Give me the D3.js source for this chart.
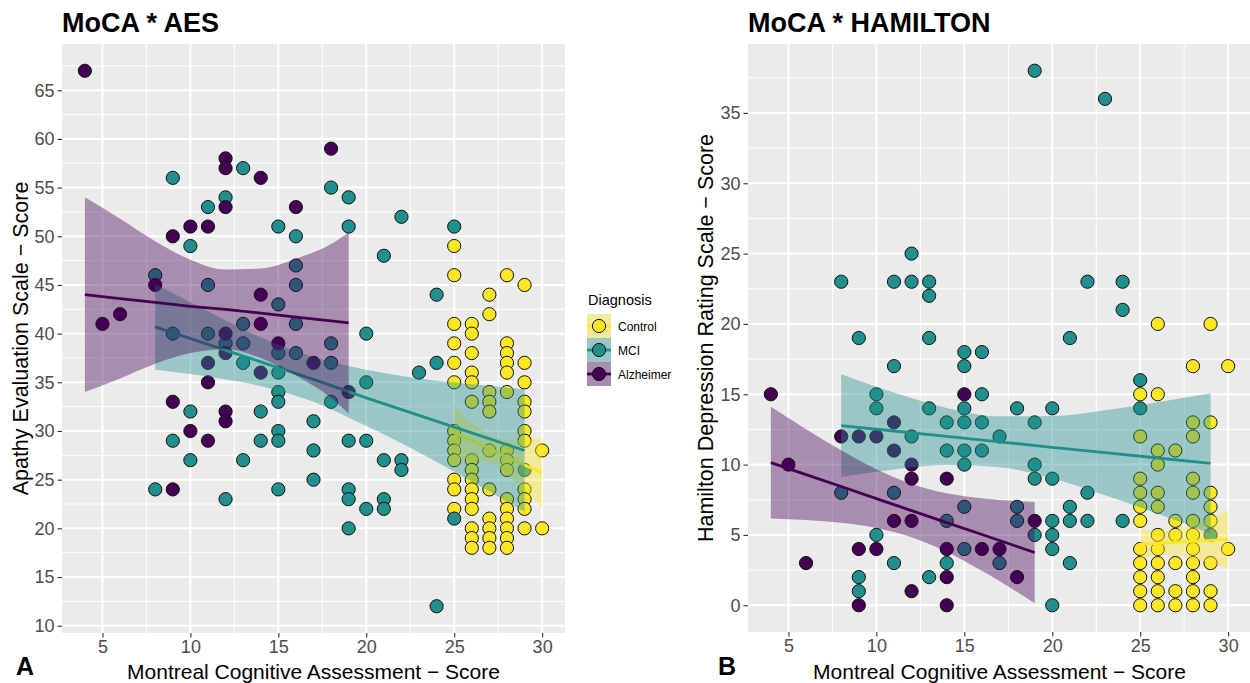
<!DOCTYPE html>
<html>
<head>
<meta charset="utf-8">
<script src="https://cdn.jsdelivr.net/npm/d3@7"></script>
<style>
  body { margin: 0; background: #fff; }
  text { font-family: "Liberation Sans", Arial, sans-serif; }
</style>
</head>
<body>
<svg id="chart" width="1250" height="683"></svg>
<script>
const groups = ["Control", "MCI", "Alzheimer"];
const groupColors = ["#FDE725", "#21908C", "#440154"];

const xTicks = [5, 10, 15, 20, 25, 30];
const aesTicks = [10, 15, 20, 25, 30, 35, 40, 45, 50, 55, 60, 65];
const hamTicks = [0, 5, 10, 15, 20, 25, 30, 35];

// MoCA * AES, [MoCA, AES]
const aesControl = [
  [25,49],[25,46],[25,41],[25,39],[25,37],[25,35],[25,30],[25,29],[25,28],[25,27],[25,25],[25,24],[25,22],
  [26,41],[26,40],[26,38],[26,36],[26,35],[26,33],[26,27],[26,26],[26,25],[26,24],[26,23],[26,22],[26,20],[26,19],[26,18],
  [27,44],[27,42],[27,34],[27,33],[27,32],[27,28],[27,24],[27,21],[27,20],[27,19],[27,18],
  [28,46],[28,39],[28,38],[28,37],[28,36],[28,34],[28,28],[28,27],[28,26],[28,23],[28,22],[28,21],[28,20],[28,19],[28,18],
  [29,45],[29,37],[29,35],[29,33],[29,32],[29,30],[29,29],[29,24],[29,23],[29,22],[29,20],
  [30,28],[30,20]
];
const aesMCI = [
  [9,56],[11,53],[12,54],[13,57],[15,51],[16,50],[10,49],[8,46],[11,45],[16,47],[16,45],[15,43],
  [13,41],[16,41],[9,40],[11,40],[12,39],[13,39],[15,38],[16,38],[13,37],[15,36],[15,34],[15,33],
  [10,32],[14,32],[17,31],[15,30],[9,29],[14,29],[15,29],[17,28],[10,27],[13,27],[8,24],[15,24],
  [12,23],[18,55],[19,54],[19,51],[22,52],[21,48],[25,51],[24,44],[18,39],[18,37],[18,33],[20,40],
  [20,35],[24,37],[23,36],[19,29],[20,29],[17,25],[19,24],[19,23],[19,20],[20,22],[21,23],[21,22],
  [21,27],[22,27],[22,26],[25,21],[24,12],[29,26]
];
const aesAlzheimer = [
  [4,67],[5,41],[6,42],[8,45],[9,50],[9,33],[9,24],[10,51],[10,30],[11,51],[11,35],[11,29],[11,37],
  [12,58],[12,57],[12,53],[12,40],[12,38],[12,32],[12,31],[14,56],[14,44],[14,41],[14,36],[15,39],
  [16,53],[17,37],[18,59],[19,34]
];

// MoCA * HAMILTON, [MoCA, HAM-D]
const hamControl = [
  [26,20],[29,20],[28,17],[30,17],[25,15],[26,15],[28,13],[29,13],[25,12],[28,12],[26,11],[27,11],
  [26,10],[25,9],[28,9],[25,8],[26,8],[28,8],[29,8],[25,7],[26,7],[29,7],[25,6],[27,6],[28,6],[29,6],
  [26,5],[27,5],[28,5],[25,4],[26,4],[28,4],[30,4],[25,3],[26,3],[27,3],[28,3],[29,3],[25,2],[26,2],
  [28,2],[25,1],[26,1],[27,1],[28,1],[29,1],[25,0],[26,0],[27,0],[28,0],[29,0]
];
const hamMCI = [
  [8,23],[11,23],[12,23],[12,25],[13,23],[13,22],[9,19],[13,19],[21,19],[19,38],[23,36],[22,23],
  [24,23],[24,21],[15,18],[16,18],[11,17],[15,17],[10,15],[16,15],[10,14],[13,14],[15,14],[18,14],
  [20,14],[14,13],[15,13],[16,13],[19,13],[12,12],[17,12],[14,11],[15,11],[16,11],[15,10],[19,10],
  [19,9],[20,9],[8,8],[11,8],[22,8],[15,7],[18,7],[21,7],[14,6],[18,6],[20,6],[21,6],[22,6],[24,6],
  [19,5],[20,5],[10,5],[29,5],[15,4],[20,4],[11,3],[14,3],[17,3],[21,3],[9,2],[13,2],[9,1],[20,0],
  [25,16],[25,14]
];
const hamAlzheimer = [
  [4,15],[5,10],[6,3],[8,12],[9,12],[9,4],[9,0],[10,12],[10,4],[11,13],[11,11],[11,6],[12,10],
  [12,9],[12,6],[12,1],[14,9],[14,4],[14,2],[14,0],[15,15],[16,4],[17,4],[18,2],[19,6]
];

// linear fits with 95% band, [MoCA, fit, lower, upper]
const aesFitControl = [[25,29.8,27.0,32.6],[26,29.0,27.1,30.9],[27,28.2,26.7,29.6],[28,27.3,25.5,29.1],[29,26.5,23.9,29.1],[30,25.7,22.1,29.3]];
const aesFitMCI = [[8,40.7,36.3,45.1],[11,38.9,35.6,42.3],[14,37.1,34.6,39.6],[17,35.3,33.0,37.6],[20,33.4,30.5,36.3],[23,31.6,27.8,35.4],[26,29.8,24.8,34.8],[29,28.0,21.7,34.3]];
const aesFitAlzheimer = [[4,44.0,34.0,54.0],[6,43.6,35.4,51.8],[8,43.2,36.9,49.5],[10,42.8,38.0,47.6],[12,42.5,38.4,46.6],[14,42.1,37.5,46.7],[16,41.7,35.7,47.7],[18,41.3,33.4,49.2],[19,41.1,31.8,50.4]];

const hamFitControl = [[25,4.34,3.26,5.42],[26,4.41,3.55,5.27],[27,4.48,3.56,5.40],[28,4.54,3.32,5.76],[29,4.61,2.98,6.24],[30,4.68,2.60,6.76]];
const hamFitMCI = [[8,12.77,9.12,16.42],[11,12.39,9.66,15.12],[14,12.0,9.97,14.03],[17,11.62,9.81,13.43],[20,11.23,9.01,13.45],[23,10.85,7.83,13.87],[26,10.47,6.50,14.44],[29,10.08,5.08,15.08]];
const hamFitAlzheimer = [[4,10.14,6.17,14.11],[6,9.29,6.06,12.52],[8,8.44,5.86,11.02],[10,7.58,5.49,9.67],[12,6.73,4.83,8.63],[14,5.88,3.79,7.97],[16,5.03,2.45,7.61],[18,4.18,0.95,7.41],[19,3.75,0.15,7.35]];

const svg = d3.select("#chart");

function expand(ext) {
  const pad = (ext[1] - ext[0]) * 0.05;
  return [ext[0] - pad, ext[1] + pad];
}

function minorTicks(ticks, domain) {
  const step = ticks[1] - ticks[0];
  const out = [];
  for (let i = -1; i < ticks.length; i++) {
    const v = ticks[0] + step * (i + 0.5);
    if (v > domain[0] && v < domain[1]) out.push(v);
  }
  return out;
}

function drawPanel(cfg) {
  const allPts = cfg.points.flat();
  const x = d3.scaleLinear().domain(expand(d3.extent(allPts, d => d[0]))).range([cfg.left, cfg.right]);
  const y = d3.scaleLinear().domain(expand(d3.extent(allPts, d => d[1]))).range([cfg.bottom, cfg.top]);

  const g = svg.append("g");
  const clipId = "clip-" + cfg.tag;
  g.append("clipPath").attr("id", clipId)
    .append("rect")
    .attr("x", cfg.left).attr("y", cfg.top)
    .attr("width", cfg.right - cfg.left).attr("height", cfg.bottom - cfg.top);

  g.append("rect")
    .attr("x", cfg.left).attr("y", cfg.top)
    .attr("width", cfg.right - cfg.left).attr("height", cfg.bottom - cfg.top)
    .attr("fill", "#EBEBEB");

  const grid = g.append("g").attr("clip-path", `url(#${clipId})`);
  grid.selectAll(".xminor").data(minorTicks(xTicks, x.domain())).enter().append("line")
    .attr("x1", d => x(d)).attr("x2", d => x(d)).attr("y1", cfg.top).attr("y2", cfg.bottom)
    .attr("stroke", "#fff").attr("stroke-width", 1);
  grid.selectAll(".yminor").data(minorTicks(cfg.yTicks, y.domain())).enter().append("line")
    .attr("y1", d => y(d)).attr("y2", d => y(d)).attr("x1", cfg.left).attr("x2", cfg.right)
    .attr("stroke", "#fff").attr("stroke-width", 1);
  grid.selectAll(".xmajor").data(xTicks).enter().append("line")
    .attr("x1", d => x(d)).attr("x2", d => x(d)).attr("y1", cfg.top).attr("y2", cfg.bottom)
    .attr("stroke", "#fff").attr("stroke-width", 2);
  grid.selectAll(".ymajor").data(cfg.yTicks).enter().append("line")
    .attr("y1", d => y(d)).attr("y2", d => y(d)).attr("x1", cfg.left).attr("x2", cfg.right)
    .attr("stroke", "#fff").attr("stroke-width", 2);

  const plot = g.append("g").attr("clip-path", `url(#${clipId})`);

  // points first, smooths on top (as geom_point + geom_smooth)
  cfg.points.forEach((pts, i) => {
    plot.append("g").selectAll("circle").data(pts).enter().append("circle")
      .attr("cx", d => x(d[0])).attr("cy", d => y(d[1]))
      .attr("r", 6.6)
      .attr("fill", groupColors[i])
      .attr("stroke", "#111").attr("stroke-width", 1);
  });

  const band = d3.area().curve(d3.curveMonotoneX)
    .x(d => x(d[0])).y0(d => y(d[2])).y1(d => y(d[3]));
  const fitLine = d3.line().x(d => x(d[0])).y(d => y(d[1]));

  cfg.fits.forEach((fit, i) => {
    plot.append("path").datum(fit)
      .attr("d", band)
      .attr("fill", groupColors[i]).attr("fill-opacity", 0.4);
    plot.append("path").datum(fit)
      .attr("d", fitLine)
      .attr("fill", "none").attr("stroke", groupColors[i]).attr("stroke-width", 2.8);
  });

  // axes
  const xAxis = g.append("g").attr("transform", `translate(0,${cfg.bottom})`)
    .call(d3.axisBottom(x).tickValues(xTicks).tickSize(4.5).tickPadding(2.5));
  const yAxis = g.append("g").attr("transform", `translate(${cfg.left},0)`)
    .call(d3.axisLeft(y).tickValues(cfg.yTicks).tickSize(4.5).tickPadding(3));
  [xAxis, yAxis].forEach(a => {
    a.select(".domain").remove();
    a.selectAll(".tick line").attr("stroke", "#333").attr("stroke-width", 1.1);
    a.selectAll(".tick text").attr("fill", "#4D4D4D")
      .style("font-size", "18px").style("font-family", '"Liberation Sans", Arial, sans-serif');
  });

  g.append("text")
    .attr("x", (cfg.left + cfg.right) / 2).attr("y", 679)
    .attr("text-anchor", "middle")
    .style("font-size", "21px").attr("fill", "#000")
    .text("Montreal Cognitive Assessment \u2212 Score");

  g.append("text")
    .attr("transform", `translate(${cfg.yTitleX},${(cfg.top + cfg.bottom) / 2}) rotate(-90)`)
    .attr("text-anchor", "middle")
    .style("font-size", "21.5px").attr("fill", "#000")
    .text(cfg.yTitle);

  g.append("text")
    .attr("x", cfg.left).attr("y", 31.5)
    .style("font-size", "27px").style("font-weight", "bold").attr("fill", "#000")
    .text(cfg.title);

  g.append("text")
    .attr("x", cfg.tagX).attr("y", 675)
    .style("font-size", "25px").style("font-weight", "bold").attr("fill", "#000")
    .text(cfg.tag);
}

drawPanel({
  left: 62, right: 565, top: 44, bottom: 633,
  yTicks: aesTicks,
  points: [aesControl, aesMCI, aesAlzheimer],
  fits: [aesFitControl, aesFitMCI, aesFitAlzheimer],
  title: "MoCA * AES",
  yTitle: "Apathy Evaluation Scale \u2212 Score",
  yTitleX: 28, tag: "A", tagX: 16
});

drawPanel({
  left: 748, right: 1251, top: 44, bottom: 632,
  yTicks: hamTicks,
  points: [hamControl, hamMCI, hamAlzheimer],
  fits: [hamFitControl, hamFitMCI, hamFitAlzheimer],
  title: "MoCA * HAMILTON",
  yTitle: "Hamilton Depression Rating Scale \u2212 Score",
  yTitleX: 713, tag: "B", tagX: 718
});

// legend
const legend = svg.append("g").attr("transform", "translate(587,0)");
legend.append("text").attr("x", 1).attr("y", 305)
  .style("font-size", "14.5px").attr("fill", "#000").text("Diagnosis");
const key = legend.selectAll(".key").data(groups).enter().append("g")
  .attr("transform", (d, i) => `translate(0,${314 + i * 24})`);
key.append("rect").attr("width", 24).attr("height", 24).attr("fill", "#EBEBEB");
key.append("rect").attr("width", 24).attr("height", 24)
  .attr("fill", (d, i) => groupColors[i]).attr("fill-opacity", 0.4);
key.append("line").attr("x1", 0).attr("x2", 24).attr("y1", 12).attr("y2", 12)
  .attr("stroke", (d, i) => groupColors[i]).attr("stroke-width", 2.8);
key.append("circle").attr("cx", 12).attr("cy", 12).attr("r", 6.6)
  .attr("fill", (d, i) => groupColors[i]).attr("stroke", "#111").attr("stroke-width", 1);
key.append("text").attr("x", 31).attr("y", 16.5)
  .style("font-size", "12px").attr("fill", "#000").text(d => d);
</script>
</body>
</html>
